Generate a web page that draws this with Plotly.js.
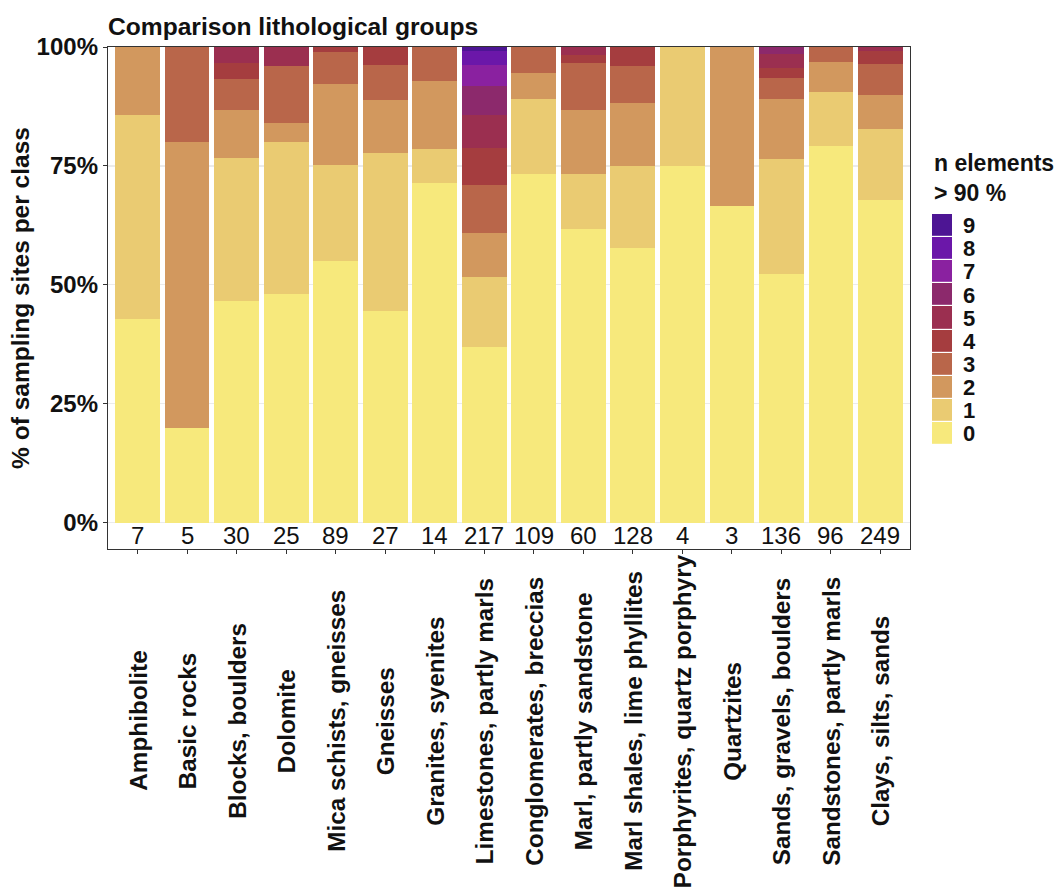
<!DOCTYPE html>
<html>
<head>
<meta charset="utf-8">
<script src="https://cdn.plot.ly/plotly-3.0.1.min.js"></script>
<style>html,body{margin:0;padding:0;background:#fff;}#chart{width:1061px;height:890px;}</style>
</head>
<body>
<div id="chart"></div>
<script>
// ---------- data ----------
const categories = [
  "Amphibolite", "Basic rocks", "Blocks, boulders", "Dolomite",
  "Mica schists, gneisses", "Gneisses", "Granites, syenites",
  "Limestones, partly marls", "Conglomerates, breccias", "Marl, partly sandstone",
  "Marl shales, lime phyllites", "Porphyrites, quartz porphyry", "Quartzites",
  "Sands, gravels, boulders", "Sandstones, partly marls", "Clays, silts, sands"
];
const classLabels = ["0", "1", "2", "3", "4", "5", "6", "7", "8", "9"];
// number of sampling sites per class with n elements > 90 %
const class0 = [3, 1, 14, 12, 49, 12, 10, 80, 80, 37, 74, 3, 2, 71, 76, 169];
const class1 = [3, 0, 9, 8, 18, 9, 1, 32, 17, 7, 22, 1, 0, 33, 11, 37];
const class2 = [1, 3, 3, 1, 15, 3, 2, 20, 6, 8, 17, 0, 1, 17, 6, 18];
const class3 = [0, 1, 2, 3, 6, 2, 1, 22, 6, 6, 10, 0, 0, 6, 3, 16];
const class4 = [0, 0, 1, 0, 1, 1, 0, 17, 0, 1, 5, 0, 0, 3, 0, 7];
const class5 = [0, 0, 1, 1, 0, 0, 0, 15, 0, 1, 0, 0, 0, 4, 0, 2];
const class6 = [0, 0, 0, 0, 0, 0, 0, 13, 0, 0, 0, 0, 0, 2, 0, 0];
const class7 = [0, 0, 0, 0, 0, 0, 0, 10, 0, 0, 0, 0, 0, 0, 0, 0];
const class8 = [0, 0, 0, 0, 0, 0, 0, 6, 0, 0, 0, 0, 0, 0, 0, 0];
const class9 = [0, 0, 0, 0, 0, 0, 0, 2, 0, 0, 0, 0, 0, 0, 0, 0];
const classCounts = [class0, class1, class2, class3, class4, class5, class6, class7, class8, class9];
const classColors = ["#F7E97C", "#EACB72", "#D2985E", "#B9664A", "#A53D3F",
                     "#9B2F50", "#8C296C", "#8A21A0", "#6B17A9", "#4D1594"];
const yTicks = [0, 25, 50, 75, 100];

// ---------- styling ----------
const FONT = "Liberation Sans, Arial, Helvetica, sans-serif";
const INK = "#111111";
const W = 1061, H = 890;
const M = {l: 108, r: 20, t: 47, b: 341};
const plotW = W - M.l - M.r, plotH = H - M.t - M.b;
const mainRight = 910;
const keyLeft = 932, keyRight = 952, keyTop = 214, keyBottom = 445;
const px2fx = p => (p - M.l) / plotW;
const py2fy = p => (H - M.b - p) / plotH;

const nSites = categories.map((_, j) => classCounts.reduce((s, arr) => s + arr[j], 0));

const traces = classCounts.map((vals, i) => ({
  type: "bar", x: categories, y: vals, name: classLabels[i],
  marker: {color: classColors[i], line: {width: 0}},
  showlegend: false, xaxis: "x", yaxis: "y",
  hovertemplate: "%{x}<br>" + classLabels[i] + ": %{y:.1f}%<extra></extra>"
}));

traces.push({
  type: "heatmap", x: ["key"], y: classLabels,
  z: classLabels.map(c => [Number(c)]),
  zmin: 0, zmax: classLabels.length - 1,
  colorscale: classColors.map((c, i) => [i / (classColors.length - 1), c]),
  showscale: false, xgap: 0, ygap: 1.2,
  xaxis: "x2", yaxis: "y2", hoverinfo: "skip"
});

const annotations = [];
categories.forEach((c, j) => {
  annotations.push({
    x: c, xref: "x", y: -2.7, yref: "y", text: String(nSites[j]),
    showarrow: false, xanchor: "center", yanchor: "middle",
    font: {family: FONT, size: 24, color: INK}
  });
  annotations.push({
    x: c, xref: "x", y: py2fy(721), yref: "paper", text: c, textangle: -90,
    showarrow: false, xanchor: "center", yanchor: "middle",
    font: {family: FONT, size: 24.3, color: INK, weight: "bold"}
  });
});
annotations.push({
  x: px2fx(keyLeft), xref: "paper", y: py2fy(148), yref: "paper",
  text: "n elements<br>&gt; 90 %", align: "left",
  showarrow: false, xanchor: "left", yanchor: "top",
  font: {family: FONT, size: 23, color: INK, weight: "bold"}
});

const layout = {
  width: W, height: H,
  margin: M,
  paper_bgcolor: "#ffffff", plot_bgcolor: "#ffffff",
  font: {family: FONT, color: INK},
  barmode: "stack", barnorm: "percent", bargap: 0.1,
  title: {
    text: "Comparison lithological groups",
    x: 0, xref: "paper", xanchor: "left",
    y: 1 - 26 / H, yref: "container", yanchor: "middle",
    font: {family: FONT, size: 24.6, color: INK, weight: "bold"}
  },
  xaxis: {
    domain: [0, px2fx(mainRight)], anchor: "y",
    type: "category", range: [-0.6, categories.length - 0.4],
    showticklabels: false, ticks: "outside", ticklen: 4, tickwidth: 1, tickcolor: "#333333",
    showgrid: false, zeroline: false,
    showline: true, mirror: true, linecolor: "#333333", linewidth: 1.2
  },
  yaxis: {
    anchor: "x", domain: [0, 1],
    range: [-5.53, 100],
    tickvals: yTicks, ticktext: yTicks.map(v => v + "%"),
    ticks: "outside", ticklen: 4, tickwidth: 1, tickcolor: "#333333",
    tickfont: {family: FONT, size: 24, color: INK, weight: "bold"},
    showgrid: true, gridcolor: "#EBEBEB", gridwidth: 1.2, zeroline: false,
    showline: true, mirror: true, linecolor: "#333333", linewidth: 1.2,
    title: {text: "% of sampling sites per class", standoff: 0,
            font: {family: FONT, size: 24.5, color: INK, weight: "bold"}}
  },
  xaxis2: {
    domain: [px2fx(keyLeft), px2fx(keyRight)], anchor: "y2",
    visible: false, fixedrange: true
  },
  yaxis2: {
    domain: [py2fy(keyBottom), py2fy(keyTop)], anchor: "x2",
    type: "category", side: "right",
    tickmode: "array", tickvals: classLabels, ticktext: classLabels,
    showgrid: false, zeroline: false, showline: false, ticks: "",
    ticklabelstandoff: 10, fixedrange: true,
    tickfont: {family: FONT, size: 22, color: INK, weight: "bold"}
  },
  annotations: annotations,
  showlegend: false
};

Plotly.newPlot("chart", traces, layout, {displayModeBar: false, staticPlot: true});
</script>
</body>
</html>
